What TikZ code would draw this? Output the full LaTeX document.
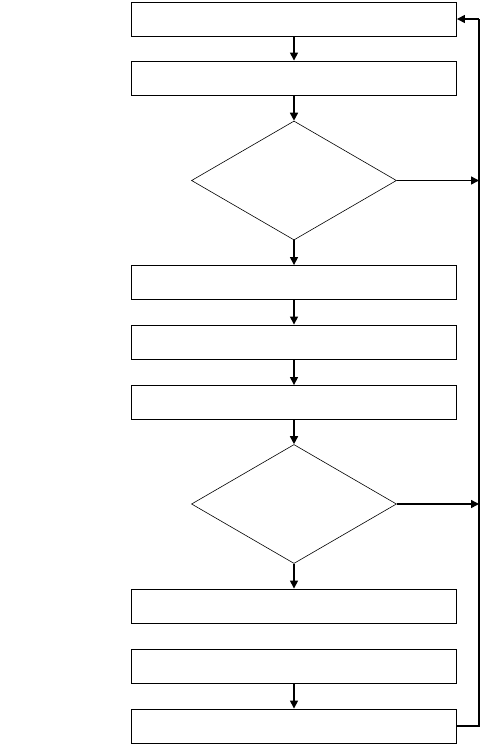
\documentclass[tikz,border=0pt]{standalone}
\usetikzlibrary{arrows.meta,shapes.geometric}
\tikzset{
  stepbox/.style={draw, line width=0.9pt, minimum width=325pt, minimum height=34pt, inner sep=0pt},
  testbox/.style={draw, diamond, line width=0.6pt, minimum width=205pt, minimum height=119pt, inner sep=0pt},
  flow/.style={line width=1.5pt, -{Triangle[length=8pt,width=8pt]}},
  loopline/.style={line width=1.8pt}
}
\begin{document}
\begin{tikzpicture}[x=1pt, y=-1pt]
  \useasboundingbox (0,0) rectangle (483,745);
  % steps and tests
  \node[stepbox] (s1) at (294,19) {};
  \node[stepbox] (s2) at (294,78) {};
  \node[testbox] (t1) at (294,180.5) {};
  \node[stepbox] (s3) at (294,282.5) {};
  \node[stepbox] (s4) at (294,342) {};
  \node[stepbox] (s5) at (294,402.5) {};
  \node[testbox] (t2) at (294,504) {};
  \node[stepbox] (s6) at (294,606) {};
  \node[stepbox] (s7) at (294,666) {};
  \node[stepbox] (s8) at (294,726) {};
  \coordinate (rt) at (479,19);
  \coordinate (rb) at (479,726);

  % main flow
  \draw[flow] (s1) -- (s2);
  \draw[flow] (s2) -- (t1);
  \draw[flow] (t1) -- (s3);
  \draw[flow] (s3) -- (s4);
  \draw[flow] (s4) -- (s5);
  \draw[flow] (s5) -- (t2);
  \draw[flow] (t2) -- (s6);
  \draw[flow] (s7) -- (s8);

  % loop back
  \draw[loopline] (s8.east) -- (rb) -- (rt);
  \draw[flow] (rt) -- (s1.east);
  \draw[flow] (t1.east) -- (t1.east -| rt);
  \draw[flow] (t2.east) -- (t2.east -| rt);
\end{tikzpicture}
\end{document}
